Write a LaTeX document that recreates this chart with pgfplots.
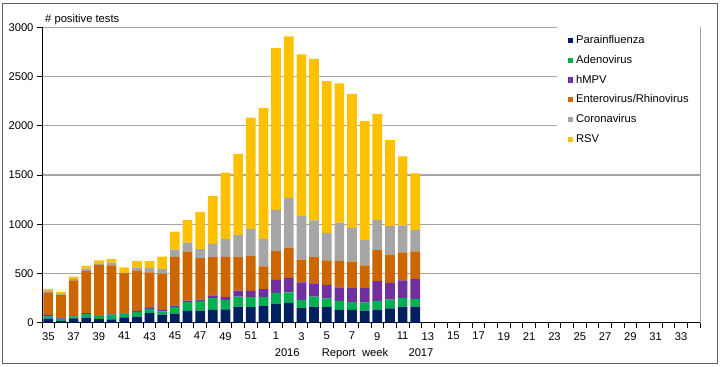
\documentclass[border=0pt]{standalone}
\usepackage{fontspec}
\setmainfont{Liberation Sans}
\usepackage{pgfplots}
\pgfplotsset{compat=1.18}
\usepackage{pgfplotstable}
\definecolor{cPara}{RGB}{0,32,96}
\definecolor{cAdeno}{RGB}{0,176,80}
\definecolor{cHMPV}{RGB}{112,48,160}
\definecolor{cEntero}{RGB}{204,102,0}
\definecolor{cCorona}{RGB}{166,166,166}
\definecolor{cRSV}{RGB}{255,192,0}
\definecolor{gridc}{RGB}{165,165,165}
\definecolor{framec}{RGB}{95,95,95}
\pgfplotstableread{
x N G P O C R
0 41 24 14 229 17 18
1 17 21 7 241 11 17
2 44 21 5 360 15 22
3 51 38 7 428 24 29
4 38 30 7 511 17 29
5 34 48 7 493 28 37
6 55 37 4 406 5 55
7 61 48 10 413 31 62
8 96 44 10 362 44 69
9 82 34 14 368 48 126
10 92 65 17 495 72 184
11 119 89 17 495 92 229
12 123 95 17 420 92 379
13 130 119 29 388 135 485
14 136 96 27 409 184 671
15 164 102 61 338 224 825
16 157 102 65 351 276 1131
17 174 85 82 232 279 1326
18 194 109 133 290 419 1643
19 201 106 148 308 505 1639
20 147 85 177 232 443 1642
21 164 102 126 273 374 1640
22 157 88 140 249 279 1541
23 130 92 136 269 389 1414
24 130 78 143 269 344 1357
25 123 81 147 232 255 1210
26 133 88 201 314 306 1080
27 146 89 170 286 290 872
28 163 89 177 286 273 701
29 163 79 204 279 218 573
}\data
\begin{document}
\begin{tikzpicture}[font=\fontsize{11.2bp}{13bp}\selectfont]
\useasboundingbox (-42bp,-44.3bp) rectangle (678bp,322.7bp);
\begin{axis}[
  at={(0,0)}, anchor=south west, clip=false,
  scale only axis, width=658bp, height=295.4bp,
  xmin=-0.5, xmax=51.5, ymin=0, ymax=3000,
  ybar stacked, bar width=9.7bp,
  axis line style={draw=gridc, line width=1bp},
  ymajorgrids, major grid style={draw=gridc, line width=1.1bp},
  tick align=outside, xtick pos=bottom, ytick pos=left,
  tick style={black, line width=0.8bp},
  major tick length=5bp,
  ytick={0,500,...,3000},
  /pgf/number format/assume math mode=true,
  /pgf/number format/1000 sep={},
  xtick={-0.5,0.5,...,51.5}, xticklabels={},
  extra x ticks={0,2,...,50},
  extra x tick labels={35,37,39,41,43,45,47,49,51,1,3,5,7,9,11,13,15,17,19,21,23,25,27,29,31,33},
  extra x tick style={major tick length=0pt, grid=none, xticklabel style={yshift=-6bp}},
  legend style={at={(1,1)}, anchor=north east, draw=none, fill=white,
    inner xsep=11bp, inner ysep=8bp, row sep=9.8bp, column sep=3bp,
    nodes={inner sep=0pt, text height=8bp, text depth=2bp},
    cells={anchor=west}, font=\fontsize{11.2bp}{13bp}\selectfont},
  legend image code/.code={\fill[#1] (1bp,-2.6bp) rectangle (6.2bp,2.6bp);},
]
\addplot[fill=cPara, draw=none] table[x=x, y=N] {\data};
\addplot[fill=cAdeno, draw=none] table[x=x, y=G] {\data};
\addplot[fill=cHMPV, draw=none] table[x=x, y=P] {\data};
\addplot[fill=cEntero, draw=none] table[x=x, y=O] {\data};
\addplot[fill=cCorona, draw=none] table[x=x, y=C] {\data};
\addplot[fill=cRSV, draw=none] table[x=x, y=R] {\data};
\legend{Parainfluenza,Adenovirus,hMPV,Enterovirus/Rhinovirus,Coronavirus,RSV}
\draw[black, line width=1bp] (rel axis cs:0,1) -- (rel axis cs:0,0) -- (rel axis cs:1,0);
\node[anchor=base west, inner sep=0pt, xshift=3bp, yshift=4.8bp] at (rel axis cs:0,1) {\# positive tests};
\node[anchor=base, inner sep=0pt, yshift=-33.3bp] at (axis cs:18.88,0) {2016};
\node[anchor=base, inner sep=0pt, yshift=-33.3bp] at (axis cs:24.24,0) {Report\hspace{0.6em}week};
\node[anchor=base, inner sep=0pt, yshift=-33.3bp] at (axis cs:29.45,0) {2017};
\end{axis}
\draw[framec, line width=1bp] (-39bp,-40.3bp) rectangle (675bp,318.7bp);
\end{tikzpicture}
\end{document}
